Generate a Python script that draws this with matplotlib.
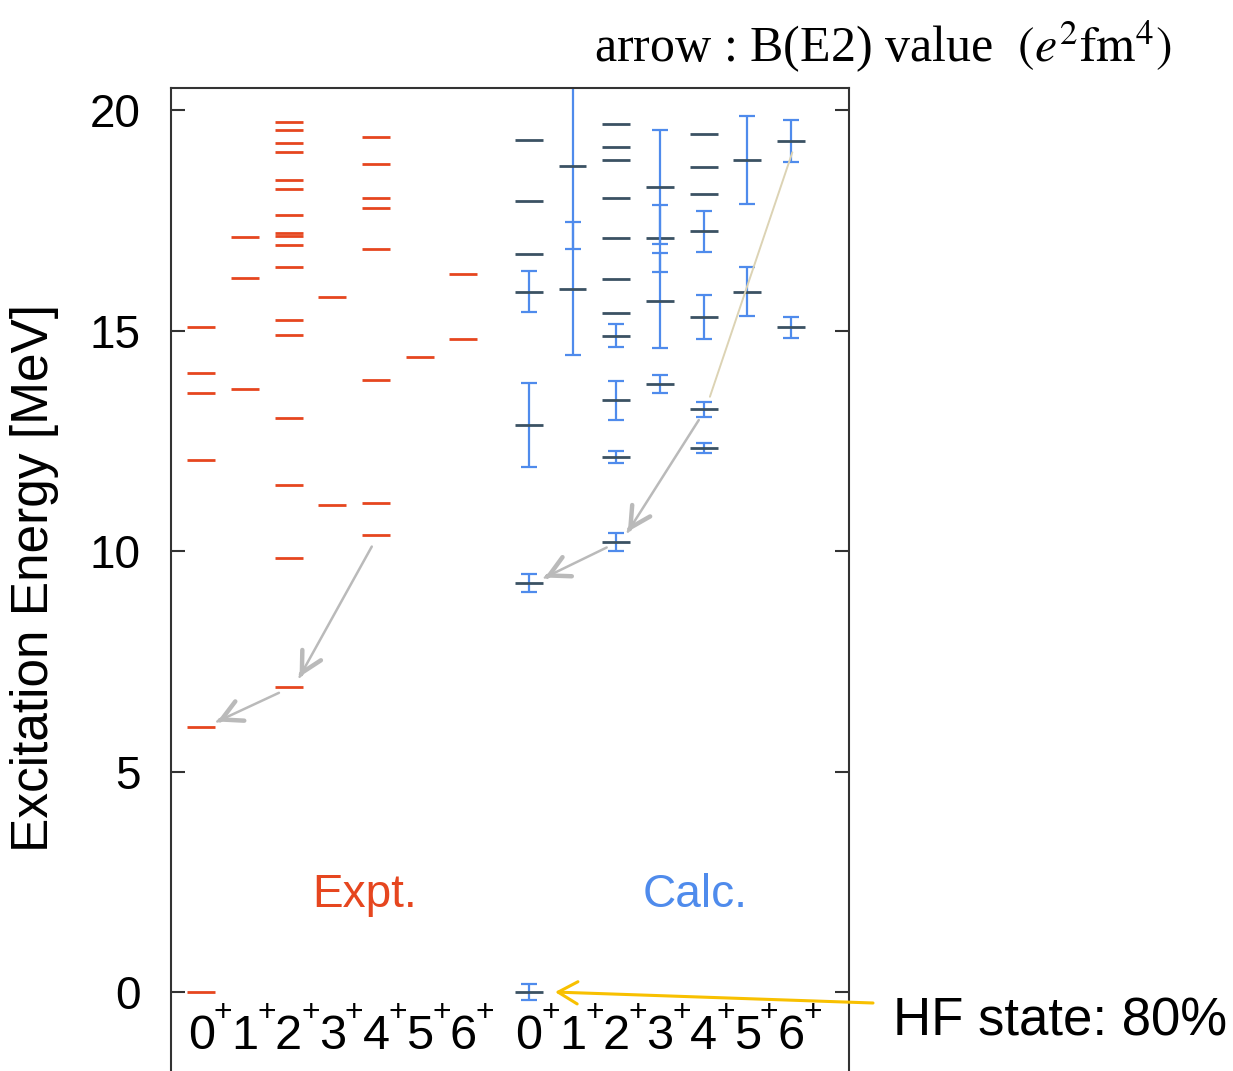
import matplotlib
matplotlib.use("Agg")
import numpy as np
import matplotlib.pyplot as plt

plt.rcParams['font.family'] = ['Liberation Sans', 'DejaVu Sans']
plt.rcParams['mathtext.fontset'] = 'stix'

# spin labels (all positive parity)
spins = ['0', '1', '2', '3', '4', '5', '6']

# experimental levels [MeV], one list per spin
expt_e = [
    [0.0, 6.02, 12.06, 13.58, 14.03, 15.07],
    [13.67, 16.20, 17.13],
    [6.91, 9.84, 11.49, 13.02, 14.91, 15.24, 16.44, 16.93, 17.14, 17.21,
     17.61, 18.22, 18.41, 19.06, 19.26, 19.54, 19.74],
    [11.05, 15.76],
    [10.36, 11.09, 13.87, 16.84, 17.77, 18.01, 18.78, 19.38],
    [14.39],
    [14.80, 16.28],
]

# calculated levels [MeV] and their energy uncertainties
calc_e = [
    [0.0, 9.28, 12.86, 15.88, 16.73, 17.94, 19.33],
    [15.95, 18.73],
    [10.21, 12.14, 13.42, 14.88, 15.40, 16.16, 17.09, 18.01, 18.86, 19.17, 19.69],
    [13.79, 15.68, 17.09, 18.25],
    [12.34, 13.22, 15.31, 17.25, 18.09, 18.70, 19.46],
    [15.88, 18.86],
    [15.07, 19.30],
]
calc_err = [
    [0.19, 0.20, 0.95, 0.46, 0.0, 0.0, 0.0],
    [1.51, 1.89],
    [0.20, 0.14, 0.44, 0.26, 0.0, 0.0, 0.0, 0.0, 0.0, 0.0, 0.0],
    [0.20, 1.08, 0.76, 1.29],
    [0.11, 0.17, 0.50, 0.46, 0.0, 0.0, 0.0],
    [0.56, 1.00],
    [0.24, 0.48],
]

# E2 transitions: (spin_from, E_from, spin_to, E_to)
expt_trans = [(4, 10.36, 2, 6.91), (2, 6.91, 0, 6.02)]
calc_trans = [(4, 13.22, 2, 10.21), (2, 10.21, 0, 9.28)]
calc_faint = [(4, 13.22, 6, 19.30)]

RED = '#e6461f'
BLUE = '#4f8bec'
DARK = '#3b5263'
GREY = '#bababa'
GOLD = '#f8c000'

CALC_X0 = 7.5   # calc group offset on the x axis
HW = 0.32       # half width of a level bar

fig = plt.figure(figsize=(12.33, 10.71), dpi=100)
ax = fig.add_axes([0.1387, -0.0498, 0.5499, 0.9676])
ax.set_xlim(-0.69, 14.83)
ax.set_ylim(-3, 20.5)

# experiment
for i, levels in enumerate(expt_e):
    for e in levels:
        ax.plot([i - HW, i + HW], [e, e], color=RED, lw=2.0, solid_capstyle='butt')

# calculation: dark level line plus blue error bar
for i, (levels, errs) in enumerate(zip(calc_e, calc_err)):
    x = CALC_X0 + i
    for e, d in zip(levels, errs):
        if d > 0:
            ax.errorbar(x, e, yerr=d, fmt='none', ecolor=BLUE, elinewidth=1.6,
                        capsize=5.5, capthick=1.6)
        ax.plot([x - HW, x + HW], [e, e], color=DARK, lw=2.0, solid_capstyle='butt')


def shrink_ends(p0, p1, a, b):
    # pull both ends of a segment in by a and b pixels
    d0, d1 = ax.transData.transform([p0, p1])
    u = (d1 - d0) / np.hypot(*(d1 - d0))
    inv = ax.transData.inverted()
    return inv.transform(d0 + u * a), inv.transform(d1 - u * b), inv.transform(d1 - u * (b + 3))


def draw_trans(trans, x0, color, head=True, lw=1.8):
    for s0, e0, s1, e1 in trans:
        p0, p1, pn = shrink_ends((x0 + s0 + 0.05, e0), (x0 + s1 + 0.12, e1), 13, 12)
        ax.annotate('', xy=p1, xytext=p0,
                    arrowprops=dict(arrowstyle='-', color=color, lw=lw,
                                    shrinkA=0, shrinkB=0))
        if head:
            ax.annotate('', xy=p1, xytext=pn,
                        arrowprops=dict(arrowstyle='->,head_length=0.85,head_width=0.45',
                                        mutation_scale=17, color=color, lw=3.2,
                                        shrinkA=0, shrinkB=0))


draw_trans(expt_trans, 0, GREY)
draw_trans(calc_trans, CALC_X0, GREY)
draw_trans(calc_faint, CALC_X0, '#dcd3b4', head=False, lw=1.4)

# HF state pointer from outside the frame
ax.annotate('', xy=(CALC_X0 + 0.6, 0.0), xytext=(873, 1071 - 1003),
            textcoords='figure pixels', annotation_clip=False,
            arrowprops=dict(arrowstyle='->,head_length=0.7,head_width=0.4',
                            mutation_scale=20, color=GOLD, lw=2.2,
                            shrinkA=0, shrinkB=0))

# spin-parity labels along the bottom: digit with a raised plus sign
for x0 in (0, CALC_X0):
    for i, s in enumerate(spins):
        ax.text(x0 + i, -1.0, s, ha='center', va='center', fontsize=35)
        ax.text(x0 + i + 0.5, -0.48, '+', ha='center', va='center', fontsize=23)

ax.text(3.75, 2.2, 'Expt.', color=RED, fontsize=33, ha='center', va='center')
ax.text(11.3, 2.2, 'Calc.', color=BLUE, fontsize=33, ha='center', va='center')

ax.set_xticks([])
ax.set_yticks([0, 5, 10, 15, 20])
ax.tick_params(axis='y', direction='in', length=10, width=1.5, right=True,
               labelsize=33, pad=22, color='#333333')
for sp in ax.spines.values():
    sp.set_color('#333333')
    sp.set_linewidth(1.5)

fig.text(35 / 1233, 1 - 578 / 1071, 'Excitation Energy [MeV]', rotation=90,
         ha='center', va='center', fontsize=37)
fig.text(883 / 1233, 1 - 47 / 1071, r'arrow : B(E2) value  $(e^2\mathrm{fm}^4)$',
         ha='center', va='center', fontsize=36, family='Liberation Serif')
fig.text(893 / 1233, 1 - 1022 / 1071, 'HF state: 80%', ha='left', va='center',
         fontsize=38)

fig.savefig('out.png', dpi=100)
